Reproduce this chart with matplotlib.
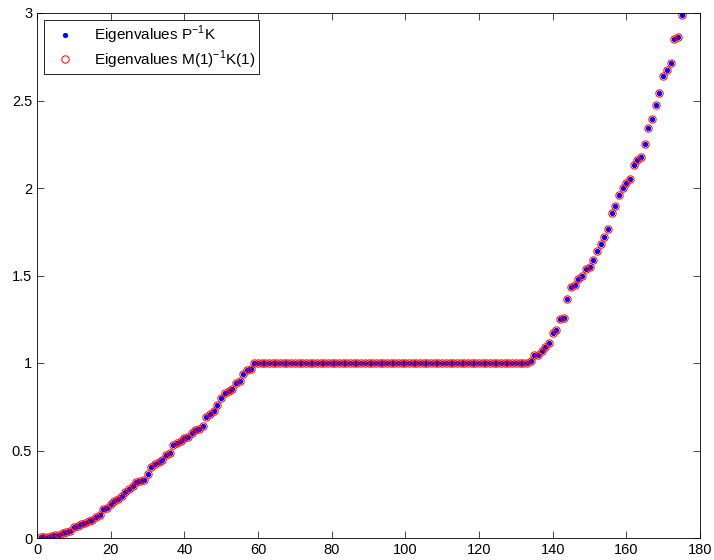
import numpy as np
import matplotlib
matplotlib.use('Agg')
import matplotlib.pyplot as plt
from matplotlib.ticker import FuncFormatter

# eigenvalues, index 1..175
rise_vals = [0.003, 0.005, 0.008, 0.011, 0.016, 0.020, 0.027, 0.034, 0.042, 0.062,
             0.070, 0.078, 0.088, 0.100, 0.105, 0.118, 0.130, 0.163, 0.172, 0.195,
             0.212, 0.222, 0.240, 0.265, 0.280, 0.300, 0.318, 0.325, 0.332, 0.366,
             0.405, 0.425, 0.432, 0.446, 0.472, 0.488, 0.532, 0.545, 0.553, 0.572,
             0.578, 0.600, 0.615, 0.625, 0.638, 0.690, 0.708, 0.728, 0.762, 0.798,
             0.828, 0.840, 0.852, 0.888, 0.900, 0.938, 0.962, 0.967]
flat_vals = [1.0] * 75
tail_vals = [1.013, 1.046, 1.048, 1.070, 1.093, 1.116, 1.173, 1.189, 1.251, 1.260,
             1.364, 1.436, 1.446, 1.482, 1.499, 1.539, 1.550, 1.589, 1.640, 1.678,
             1.722, 1.768, 1.859, 1.899, 1.962, 2.002, 2.027, 2.051, 2.131, 2.160,
             2.175, 2.251, 2.343, 2.396, 2.476, 2.545, 2.642, 2.672, 2.712, 2.850,
             2.861, 2.990]

eig_p = np.array(rise_vals + flat_vals + tail_vals)
eig_m = eig_p.copy()
idx = np.arange(1, len(eig_p) + 1)

plt.rcParams['font.family'] = ['Liberation Sans', 'DejaVu Sans']
plt.rcParams['mathtext.fontset'] = 'custom'
plt.rcParams['mathtext.rm'] = 'Liberation Sans'

fig = plt.figure(figsize=(7.14, 5.6), dpi=100)
ax = fig.add_axes([37 / 714, 1 - 538 / 560, 663 / 714, 525 / 560])

ax.plot(idx, eig_p, '.', color='#0000ff', markersize=5.5,
        label=r'Eigenvalues P$^{-1}$K')
ax.plot(idx, eig_m, 'o', color='#ff0000', markerfacecolor='none',
        markersize=5.3, markeredgewidth=0.7,
        label=r'Eigenvalues M(1)$^{-1}$K(1)')

ax.set_xlim(0, 180)
ax.set_ylim(0, 3)
ax.set_xticks(np.arange(0, 181, 20))
ax.set_yticks(np.arange(0, 3.01, 0.5))
ax.yaxis.set_major_formatter(FuncFormatter(lambda v, p: '%g' % v))

ax.tick_params(direction='in', top=True, right=True, length=5, width=0.5,
               labelsize=10.5, colors='black')
for s in ax.spines.values():
    s.set_linewidth(0.6)
    s.set_color('black')

leg = ax.legend(loc='upper left', fontsize=11, numpoints=1, fancybox=False,
                framealpha=1, edgecolor='black', borderaxespad=0.45,
                handletextpad=0.75, handlelength=2.3, borderpad=0.25,
                labelspacing=0.15)
leg.get_frame().set_linewidth(0.6)

fig.savefig('out.png', dpi=100)
